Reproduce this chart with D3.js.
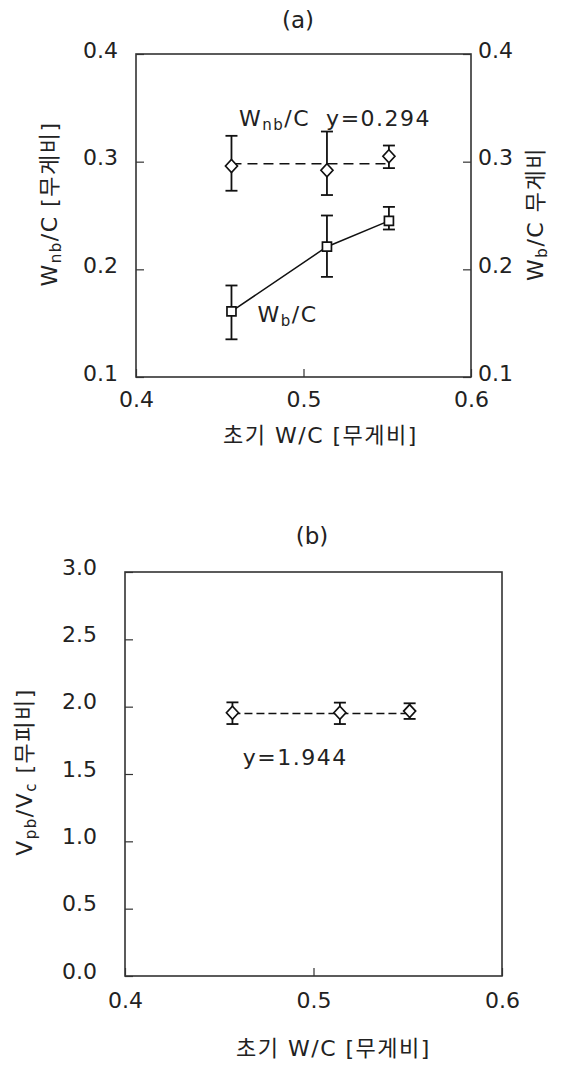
<!DOCTYPE html>
<html>
<head>
<meta charset="utf-8">
<script src="https://d3js.org/d3.v7.min.js"></script>
<style>
  body { margin: 0; background: #fff; }
  svg { display: block; }
  text { font-family: "DejaVu Sans", "Noto Sans CJK KR", sans-serif; fill: #222; }
  .tick text { font-size: 22px; }
  .ttl { font-size: 22px; letter-spacing: 1.5px; }
  .frame { fill: none; stroke: #333; stroke-width: 1.6; }
</style>
</head>
<body>
<svg id="chart" width="566" height="1068"></svg>
<script>
// initial W/C of the three mixes
var wc = [0.457, 0.514, 0.551];

// (a) Wnb/C (diamonds) and Wb/C (squares), mean and error bar ends
var wnb     = [0.296, 0.292, 0.305];
var wnbHigh = [0.324, 0.328, 0.315];
var wnbLow  = [0.273, 0.269, 0.294];
var wb      = [0.161, 0.221, 0.245];
var wbHigh  = [0.185, 0.250, 0.258];
var wbLow   = [0.135, 0.193, 0.237];
var fitA = 0.298;

// (b) Vpb/Vc
var vpb     = [1.955, 1.955, 1.967];
var vpbHigh = [2.032, 2.030, 2.025];
var vpbLow  = [1.871, 1.871, 1.909];
var fitB = 1.95;

var xTicks = [0.4, 0.5, 0.6];
var yTicksA = [0.1, 0.2, 0.3, 0.4];
var yTicksB = [0, 0.5, 1.0, 1.5, 2.0, 2.5, 3.0];

var svg = d3.select("#chart");
var f1 = d3.format(".1f");

var diamond = "M0,-6.5L6,0L0,6.5L-6,0Z";
var square = "M-4.5,-4.5H4.5V4.5H-4.5Z";

function errorBars(g, x, y, xs, hi, lo) {
    var eb = g.append("g").attr("stroke", "#111").attr("stroke-width", 1.8);
    xs.forEach(function(d, i) {
        eb.append("line").attr("x1", x(d)).attr("x2", x(d)).attr("y1", y(hi[i])).attr("y2", y(lo[i]));
        eb.append("line").attr("x1", x(d) - 6).attr("x2", x(d) + 6).attr("y1", y(hi[i])).attr("y2", y(hi[i]));
        eb.append("line").attr("x1", x(d) - 6).attr("x2", x(d) + 6).attr("y1", y(lo[i])).attr("y2", y(lo[i]));
    });
}

function markers(g, x, y, xs, ys, shape) {
    g.append("g").selectAll("path")
        .data(xs)
        .enter()
        .append("path")
        .attr("d", shape)
        .attr("transform", function(d, i) { return "translate(" + x(d) + "," + y(ys[i]) + ")"; })
        .attr("fill", "#fff")
        .attr("stroke", "#111")
        .attr("stroke-width", 1.7);
}

function styleAxis(a) {
    a.select(".domain").remove();
    a.selectAll("line").attr("stroke", "#333").attr("stroke-width", 1.2);
    a.selectAll("text").attr("fill", "#222");
}

// ---------- (a) ----------
var xA = d3.scaleLinear().domain([0.4, 0.6]).range([136, 471]);
var yA = d3.scaleLinear().domain([0.1, 0.4]).range([377, 54]);
var gA = svg.append("g");

gA.append("g").attr("transform", "translate(0,377)")
    .call(d3.axisBottom(xA).tickValues(xTicks).tickFormat(f1).tickSize(-8).tickPadding(14))
    .call(styleAxis);
gA.append("g").attr("transform", "translate(136,0)")
    .call(d3.axisLeft(yA).tickValues(yTicksA).tickFormat(f1).tickSize(-8).tickPadding(18))
    .call(styleAxis)
    .selectAll("text").attr("y", -4);
gA.append("g").attr("transform", "translate(471,0)")
    .call(d3.axisRight(yA).tickValues(yTicksA).tickFormat(f1).tickSize(-8).tickPadding(7))
    .call(styleAxis)
    .selectAll("text").attr("y", -4);
gA.append("rect").attr("class", "frame")
    .attr("x", xA(0.4)).attr("y", yA(0.4))
    .attr("width", xA(0.6) - xA(0.4)).attr("height", yA(0.1) - yA(0.4));

gA.append("line")
    .attr("x1", xA(wc[0])).attr("x2", xA(wc[2]))
    .attr("y1", yA(fitA)).attr("y2", yA(fitA))
    .attr("stroke", "#111").attr("stroke-width", 1.5).attr("stroke-dasharray", "10,6");
gA.append("path")
    .datum(wc)
    .attr("d", d3.line().x(function(d) { return xA(d); }).y(function(d, i) { return yA(wb[i]); }))
    .attr("fill", "none").attr("stroke", "#111").attr("stroke-width", 1.5);

errorBars(gA, xA, yA, wc, wnbHigh, wnbLow);
errorBars(gA, xA, yA, wc, wbHigh, wbLow);
markers(gA, xA, yA, wc, wnb, diamond);
markers(gA, xA, yA, wc, wb, square);

var t1 = gA.append("text").attr("class", "ttl").attr("x", xA(0.4615)).attr("y", yA(0.333));
t1.append("tspan").text("W");
t1.append("tspan").attr("font-size", 15).attr("dy", 4).text("nb");
t1.append("tspan").attr("dy", -4).text("/C");
gA.append("text").attr("class", "ttl").attr("x", xA(0.5135)).attr("y", yA(0.333)).text("y=0.294");

var t2 = gA.append("text").attr("class", "ttl").attr("x", xA(0.4725)).attr("y", yA(0.151));
t2.append("tspan").text("W");
t2.append("tspan").attr("font-size", 15).attr("dy", 4).text("b");
t2.append("tspan").attr("dy", -4).text("/C");

gA.append("text").attr("x", 298).attr("y", 28).attr("text-anchor", "middle")
    .attr("font-size", 23).text("(a)");

gA.append("text").attr("class", "ttl").attr("x", (xA(0.4) + xA(0.6)) / 2 + 17).attr("y", 443)
    .attr("text-anchor", "middle").text("초기 W/C [무게비]");

var yl = gA.append("text").attr("class", "ttl").attr("text-anchor", "middle")
    .attr("transform", "translate(57,204) rotate(-90)");
yl.append("tspan").text("W");
yl.append("tspan").attr("font-size", 15).attr("dy", 4).text("nb");
yl.append("tspan").attr("dy", -4).text("/C [무게비]");

var yr = gA.append("text").attr("class", "ttl").attr("text-anchor", "middle")
    .attr("transform", "translate(543,214) rotate(-90)");
yr.append("tspan").text("W");
yr.append("tspan").attr("font-size", 15).attr("dy", 4).text("b");
yr.append("tspan").attr("dy", -4).text("/C 무게비");

// ---------- (b) ----------
var xB = d3.scaleLinear().domain([0.4, 0.6]).range([125, 502]);
var yB = d3.scaleLinear().domain([0, 3]).range([976, 572]);
var gB = svg.append("g");

gB.append("g").attr("transform", "translate(0,976)")
    .call(d3.axisBottom(xB).tickValues(xTicks).tickFormat(f1).tickSize(-8).tickPadding(16))
    .call(styleAxis);
gB.append("g").attr("transform", "translate(125,0)")
    .call(d3.axisLeft(yB).tickValues(yTicksB).tickFormat(f1).tickSize(-8).tickPadding(28))
    .call(styleAxis)
    .selectAll("text").attr("y", -5);
gB.append("rect").attr("class", "frame")
    .attr("x", xB(0.4)).attr("y", yB(3))
    .attr("width", xB(0.6) - xB(0.4)).attr("height", yB(0) - yB(3));

gB.append("line")
    .attr("x1", xB(wc[0])).attr("x2", xB(wc[2]))
    .attr("y1", yB(fitB)).attr("y2", yB(fitB))
    .attr("stroke", "#111").attr("stroke-width", 1.5).attr("stroke-dasharray", "8,4");

errorBars(gB, xB, yB, wc, vpbHigh, vpbLow);
markers(gB, xB, yB, wc, vpb, diamond);

gB.append("text").attr("class", "ttl").attr("x", xB(0.4625)).attr("y", yB(1.57)).text("y=1.944");

gB.append("text").attr("x", 312).attr("y", 544).attr("text-anchor", "middle")
    .attr("font-size", 23).text("(b)");

gB.append("text").attr("class", "ttl").attr("x", (xB(0.4) + xB(0.6)) / 2 + 20).attr("y", 1056)
    .attr("text-anchor", "middle").text("초기 W/C [무게비]");

var yb = gB.append("text").attr("class", "ttl").attr("text-anchor", "middle")
    .attr("transform", "translate(32,772) rotate(-90)");
yb.append("tspan").text("V");
yb.append("tspan").attr("font-size", 15).attr("dy", 4).text("pb");
yb.append("tspan").attr("dy", -4).text("/V");
yb.append("tspan").attr("font-size", 15).attr("dy", 4).text("c");
yb.append("tspan").attr("dy", -4).text(" [무피비]");
</script>
</body>
</html>
